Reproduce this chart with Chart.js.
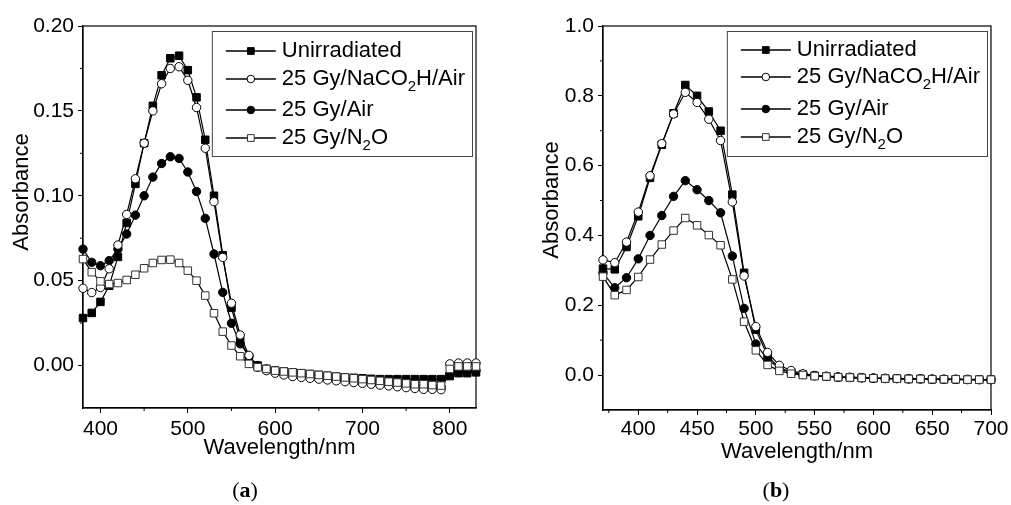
<!DOCTYPE html>
<html lang="en">
<head>
<meta charset="UTF-8">
<title>Absorbance spectra</title>
<style>
  body { margin: 0; background: #fff; }
  .panel { position: absolute; top: 0; height: 505px; }
  #panelA { left: 0; width: 505px; }
  #panelB { left: 505px; width: 506px; }
</style>
</head>
<body>
<div class="panel" id="panelA"><canvas id="chartA"></canvas></div>
<div class="panel" id="panelB"><canvas id="chartB"></canvas></div>
<script src="https://cdn.jsdelivr.net/npm/chart.js"></script>
<script>
// series names (₂ is drawn as a subscript in the legend)
const seriesNames = ['Unirradiated', '25 Gy/NaCO₂H/Air', '25 Gy/Air', '25 Gy/N₂O'];

// panel (a)
const wavelengthA = [380, 390, 400, 410, 420, 430, 440, 450, 460, 470,
  480, 490, 500, 510, 520, 530, 540, 550, 560, 570,
  580, 590, 600, 610, 620, 630, 640, 650, 660, 670,
  680, 690, 700, 710, 720, 730, 740, 750, 760, 770,
  780, 790, 800, 810, 820, 830];
const unirrA = [0.028, 0.031, 0.0375, 0.047, 0.064, 0.084, 0.107, 0.131, 0.153, 0.171,
  0.181, 0.1825, 0.174, 0.158, 0.133, 0.100, 0.065, 0.034, 0.015, 0.005,
  0.000, -0.002, -0.003, -0.0035, -0.004, -0.0045, -0.005, -0.0055, -0.006, -0.0065,
  -0.007, -0.0072, -0.0075, -0.0078, -0.008, -0.008, -0.008, -0.008, -0.008, -0.008,
  -0.008, -0.008, -0.0062, -0.0045, -0.0045, -0.004];
const nacoA = [0.0455, 0.043, 0.046, 0.057, 0.071, 0.089, 0.110, 0.131, 0.150, 0.166,
  0.175, 0.176, 0.168, 0.152, 0.128, 0.0965, 0.0637, 0.0367, 0.018, 0.006,
  -0.001, -0.003, -0.0045, -0.0055, -0.0065, -0.007, -0.0075, -0.008, -0.0085, -0.009,
  -0.0095, -0.010, -0.0105, -0.011, -0.0115, -0.012, -0.0125, -0.013, -0.0135, -0.014,
  -0.014, -0.0142, 0.001, 0.0015, 0.0015, 0.0015];
const airA = [0.0686, 0.0608, 0.0588, 0.0618, 0.0686, 0.0775, 0.0886, 0.100, 0.111, 0.119,
  0.123, 0.122, 0.114, 0.1025, 0.0867, 0.0657, 0.0431, 0.0249, 0.0128, 0.0055,
  0.000, -0.002, -0.003, -0.004, -0.005, -0.006, -0.0065, -0.007, -0.0075, -0.008,
  -0.0085, -0.009, -0.0095, -0.010, -0.0105, -0.011, -0.0115, -0.012, -0.012, -0.0125,
  -0.0125, -0.0125, -0.005, -0.0035, -0.0035, -0.003];
const n2oA = [0.0627, 0.055, 0.0496, 0.048, 0.0486, 0.0504, 0.0535, 0.0573, 0.0604, 0.0622,
  0.0624, 0.0604, 0.0559, 0.050, 0.0412, 0.0308, 0.020, 0.0118, 0.0055, 0.001,
  -0.001, -0.002, -0.003, -0.0035, -0.004, -0.0045, -0.005, -0.0055, -0.006, -0.0065,
  -0.007, -0.0075, -0.008, -0.0085, -0.009, -0.0095, -0.010, -0.0105, -0.011, -0.011,
  -0.0115, -0.0118, -0.002, -0.0005, -0.0005, -0.0005];
const xTicksA = [400, 500, 600, 700, 800];
const yTicksA = [0, 0.05, 0.10, 0.15, 0.20];

// panel (b)
const wavelengthB = [370, 380, 390, 400, 410, 420, 430, 440, 450, 460,
  470, 480, 490, 500, 510, 520, 530, 540, 550, 560,
  570, 580, 590, 600, 610, 620, 630, 640, 650, 660,
  670, 680, 690, 700];
const unirrB = [0.305, 0.303, 0.367, 0.455, 0.565, 0.66, 0.75, 0.831, 0.80, 0.755,
  0.70, 0.517, 0.293, 0.13, 0.055, 0.02, 0.008, 0.002, -0.002, -0.004,
  -0.006, -0.007, -0.008, -0.009, -0.010, -0.010, -0.011, -0.011, -0.012, -0.012,
  -0.012, -0.013, -0.013, -0.013];
const nacoB = [0.33, 0.322, 0.381, 0.467, 0.571, 0.663, 0.748, 0.81, 0.781, 0.733,
  0.672, 0.496, 0.284, 0.139, 0.065, 0.028, 0.013, 0.004, -0.001, -0.003,
  -0.005, -0.006, -0.007, -0.008, -0.009, -0.010, -0.010, -0.011, -0.011, -0.012,
  -0.012, -0.012, -0.013, -0.013];
const airB = [0.293, 0.25, 0.279, 0.333, 0.40, 0.457, 0.512, 0.557, 0.531, 0.50,
  0.465, 0.341, 0.191, 0.089, 0.045, 0.02, 0.008, 0.002, -0.002, -0.004,
  -0.006, -0.007, -0.008, -0.009, -0.010, -0.010, -0.011, -0.011, -0.012, -0.012,
  -0.012, -0.013, -0.013, -0.013];
const n2oB = [0.282, 0.229, 0.244, 0.281, 0.331, 0.374, 0.414, 0.45, 0.429, 0.401,
  0.372, 0.274, 0.153, 0.071, 0.029, 0.012, 0.004, 0.0, -0.003, -0.004,
  -0.006, -0.007, -0.008, -0.009, -0.010, -0.010, -0.011, -0.011, -0.012, -0.012,
  -0.012, -0.013, -0.013, -0.013];
const xTicksB = [400, 450, 500, 550, 600, 650, 700];
const yTicksB = [0, 0.2, 0.4, 0.6, 0.8, 1.0];

const FONT = '"Liberation Sans", Arial, sans-serif';

// marker look per series, same order as seriesNames
const looks = [
  { style: 'rect', r: 5.3, fill: '#000', stroke: '#000', order: 4 },
  { style: 'circle', r: 4.2, fill: '#fff', stroke: '#000', order: 2 },
  { style: 'circle', r: 4.2, fill: '#000', stroke: '#000', order: 3 },
  { style: 'rect', r: 5.3, fill: '#fff', stroke: '#333', order: 1 }
];

function makeDatasets(xs, series) {
  return series.map((ys, i) => ({
    label: seriesNames[i],
    data: xs.map((x, j) => ({ x: x, y: ys[j] })),
    borderColor: '#000',
    borderWidth: 1.2,
    pointStyle: looks[i].style,
    pointRadius: looks[i].r,
    pointBackgroundColor: looks[i].fill,
    pointBorderColor: looks[i].stroke,
    pointBorderWidth: 1,
    tension: 0,
    clip: false,
    order: looks[i].order
  }));
}

// text with ₂ drawn as a small lowered 2
function richText(ctx, text, x, y, size, draw) {
  let cx = x;
  text.split(/(₂)/).forEach(part => {
    if (!part) return;
    const sub = part === '₂';
    ctx.font = (sub ? Math.round(size * 0.66) : size) + 'px ' + FONT;
    const s = sub ? '2' : part;
    if (draw) ctx.fillText(s, cx, sub ? y + size * 0.36 : y);
    cx += ctx.measureText(s).width;
  });
  return cx - x;
}

function marker(ctx, style, r, x, y) {
  ctx.beginPath();
  if (style === 'rect') {
    const h = r * Math.SQRT1_2;
    ctx.rect(x - h, y - h, 2 * h, 2 * h);
  } else {
    ctx.arc(x, y, r, 0, Math.PI * 2);
  }
  ctx.fill();
  ctx.stroke();
}

const panelDecor = {
  id: 'panelDecor',
  beforeDatasetsDraw(chart, args, opts) {
    const { ctx, chartArea: a } = chart;
    const xs = chart.scales.x, ys = chart.scales.y;
    ctx.save();
    ctx.strokeStyle = '#000';
    ctx.lineWidth = 1.2;
    ctx.strokeRect(a.left, a.top, a.right - a.left, a.bottom - a.top);
    // minor ticks
    ctx.beginPath();
    opts.xMinor.forEach(v => {
      const p = xs.getPixelForValue(v);
      ctx.moveTo(p, a.bottom); ctx.lineTo(p, a.bottom + 3);
    });
    opts.yMinor.forEach(v => {
      const p = ys.getPixelForValue(v);
      ctx.moveTo(a.left, p); ctx.lineTo(a.left - 3, p);
    });
    ctx.lineWidth = 1;
    ctx.stroke();
    // y title
    ctx.fillStyle = '#000';
    ctx.font = '22px ' + FONT;
    ctx.textAlign = 'center';
    ctx.textBaseline = 'middle';
    ctx.save();
    ctx.translate(opts.yTitleX, opts.yTitleY);
    ctx.rotate(-Math.PI / 2);
    ctx.fillText('Absorbance', 0, 0);
    ctx.restore();
    // panel tag "(a)" / "(b)"
    ctx.textAlign = 'left';
    ctx.textBaseline = 'alphabetic';
    const reg = '22px "Liberation Serif", "DejaVu Serif", serif';
    const bold = 'bold ' + reg;
    ctx.font = reg; const w1 = ctx.measureText('(').width;
    ctx.font = bold; const w2 = ctx.measureText(opts.tag).width;
    let x = opts.tagX - (2 * w1 + w2) / 2;
    ctx.font = reg; ctx.fillText('(', x, 497); x += w1;
    ctx.font = bold; ctx.fillText(opts.tag, x, 497); x += w2;
    ctx.font = reg; ctx.fillText(')', x, 497);
    ctx.restore();
  },
  afterDraw(chart, args, opts) {
    const { ctx, chartArea: a } = chart;
    const sets = chart.data.datasets;
    ctx.save();
    ctx.textAlign = 'left';
    ctx.textBaseline = 'middle';
    const widths = sets.map(d => richText(ctx, d.label, 0, 0, 22, false));
    const right = a.right - 3;
    const textX = right - 8 - Math.max(...widths);
    const left = textX - 70;
    const top = a.top + 5, bottom = a.top + 130;
    ctx.fillStyle = '#fff';
    ctx.fillRect(left, top, right - left, bottom - top);
    ctx.strokeStyle = '#444';
    ctx.lineWidth = 1;
    ctx.strokeRect(left + 0.5, top + 0.5, right - left - 1, bottom - top);
    sets.forEach((d, i) => {
      const y = a.top + opts.rows[i];
      ctx.strokeStyle = '#000';
      ctx.lineWidth = 1.3;
      ctx.beginPath();
      ctx.moveTo(left + 14, y); ctx.lineTo(left + 64, y);
      ctx.stroke();
      ctx.fillStyle = d.pointBackgroundColor;
      ctx.strokeStyle = d.pointBorderColor;
      ctx.lineWidth = 1;
      marker(ctx, d.pointStyle, d.pointRadius * 0.9, left + 39, y);
      ctx.fillStyle = '#000';
      richText(ctx, d.label, textX, y, 22, true);
    });
    ctx.restore();
  }
};

function makeChart(id, cfg) {
  return new Chart(document.getElementById(id), {
    type: 'line',
    data: { datasets: makeDatasets(cfg.xs, cfg.series) },
    options: {
      responsive: true,
      maintainAspectRatio: false,
      animation: false,
      layout: { padding: { top: 26, left: 0, right: cfg.padRight, bottom: 0 } },
      plugins: {
        legend: { display: false },
        tooltip: { enabled: false },
        panelDecor: cfg.decor
      },
      scales: {
        x: {
          type: 'linear',
          min: cfg.xMin, max: cfg.xMax,
          afterBuildTicks: s => { s.ticks = cfg.xTicks.map(v => ({ value: v })); },
          afterFit: s => { s.height = cfg.xHeight; },
          ticks: { font: { family: FONT, size: 21 }, color: '#000', padding: cfg.xPad,
            maxRotation: 0, autoSkip: false, callback: v => String(v) },
          grid: { display: true, drawOnChartArea: false, tickLength: 5, tickColor: '#000', tickWidth: 1 },
          border: { display: true, color: '#000', width: 1.2 },
          title: { display: true, text: 'Wavelength/nm', color: '#000',
            font: { family: FONT, size: 22 }, padding: { top: 0, bottom: cfg.titlePad } }
        },
        y: {
          type: 'linear',
          min: cfg.yMin, max: cfg.yMax,
          afterBuildTicks: s => { s.ticks = cfg.yTicks.map(v => ({ value: v })); },
          afterFit: s => { s.width = cfg.yWidth; },
          ticks: { font: { family: FONT, size: 21 }, color: '#000', padding: 4,
            callback: v => v.toFixed(cfg.yDigits) },
          grid: { display: true, drawOnChartArea: false, tickLength: 5, tickColor: '#000', tickWidth: 1 },
          border: { display: true, color: '#000', width: 1.2 }
        }
      }
    },
    plugins: [panelDecor]
  });
}

makeChart('chartA', {
  xs: wavelengthA, series: [unirrA, nacoA, airA, n2oA],
  xMin: 380, xMax: 830, yMin: -0.025, yMax: 0.20,
  xTicks: xTicksA, yTicks: yTicksA, yDigits: 2,
  padRight: 29, yWidth: 83, xHeight: 97, xPad: 4, titlePad: 44,
  decor: { xMinor: [450, 550, 650, 750], yMinor: [0.025, 0.075, 0.125, 0.175],
    yTitleX: 22, yTitleY: 192, tag: 'a', tagX: 245, rows: [25, 53, 84, 112] }
});

makeChart('chartB', {
  xs: wavelengthB, series: [unirrB, nacoB, airB, n2oB],
  xMin: 370, xMax: 700, yMin: -0.1, yMax: 1.0,
  xTicks: xTicksB, yTicks: yTicksB, yDigits: 1,
  padRight: 20, yWidth: 98, xHeight: 95, xPad: 2, titlePad: 40,
  decor: { xMinor: [375, 425, 475, 525, 575, 625, 675], yMinor: [0.1, 0.3, 0.5, 0.7, 0.9],
    yTitleX: 47, yTitleY: 200, tag: 'b', tagX: 271, rows: [24, 51, 83, 111] }
});
</script>
</body>
</html>
